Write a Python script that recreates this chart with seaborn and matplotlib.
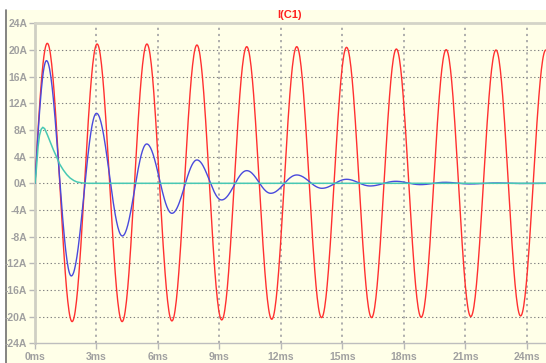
import numpy as np
import pandas as pd
import matplotlib
matplotlib.use("Agg")
import matplotlib.pyplot as plt
import seaborn as sns
from matplotlib.patches import Rectangle
from matplotlib.lines import Line2D

# ---- data (key points: zero start + extrema) ----
red_t = [0, 0.60, 1.81, 3.03, 4.25, 5.46, 6.68, 7.90, 9.11, 10.33, 11.55,
         12.77, 13.98, 15.20, 16.42, 17.63, 18.84, 20.06, 21.26, 22.49, 23.69, 24.92]
red_v = [0, 21.0, -20.75, 20.9, -20.75, 20.9, -20.65, 20.75, -20.5, 20.5, -20.4,
         20.5, -20.15, 20.4, -20.15, 20.15, -20.1, 20.05, -20.0, 20.0, -19.9, 20.0]
red_k = ["z"] + ["e"] * (len(red_t) - 1)

blue_t = [0, 0.56, 1.77, 3.00, 4.26, 5.45, 6.68, 7.90, 9.10, 10.33, 11.50,
          12.77, 14.00, 15.20, 16.35, 17.60, 18.80, 20.00, 21.20, 22.50, 23.70, 24.93]
blue_v = [0, 18.4, -13.9, 10.5, -7.9, 5.9, -4.5, 3.5, -2.5, 1.9, -1.5,
          1.25, -0.75, 0.6, -0.4, 0.3, -0.2, 0.15, -0.1, 0.05, -0.03, 0.0]
blue_k = ["z"] + ["e"] * (len(blue_t) - 2) + ["z"]

cyan_t = [0, 0.05, 0.10, 0.15, 0.22, 0.30, 0.38, 0.47, 0.60, 0.73, 0.90, 1.06,
          1.20, 1.38, 1.55, 1.71, 1.90, 2.05, 2.30, 2.60, 24.93]
cyan_v = [0, 1.5, 3.5, 5.5, 7.2, 8.1, 8.4, 8.2, 7.3, 6.3, 5.0, 3.9,
          2.9, 2.0, 1.3, 0.8, 0.4, 0.2, 0.05, 0.0, 0.0]

y_ticks = list(range(-24, 25, 4))
y_labels = [f"{v}A" for v in y_ticks]
x_ticks = list(range(0, 25, 3))
x_labels = [f"{v}ms" for v in x_ticks]
title = "I(C1)"


def render(ts, vs, ks, n=40):
    """Smooth sinusoidal-shaped rendering between read key points."""
    xs, ys = [], []
    for i in range(len(ts) - 1):
        t0, t1, v0, v1 = ts[i], ts[i + 1], vs[i], vs[i + 1]
        s = np.linspace(0, 1, n, endpoint=False)
        k = ks[i] + ks[i + 1]
        if k == "ee":
            y = (v0 + v1) / 2 + (v0 - v1) / 2 * np.cos(np.pi * s)
        elif k == "ze":
            y = v0 + (v1 - v0) * np.sin(np.pi / 2 * s)
        elif k == "ez":
            y = v1 + (v0 - v1) * np.cos(np.pi / 2 * s)
        else:
            y = v0 + (v1 - v0) * s
        xs.extend(t0 + (t1 - t0) * s)
        ys.extend(y)
    xs.append(ts[-1]); ys.append(vs[-1])
    return np.array(xs), np.array(ys)


rx, ry = render(red_t, red_v, red_k)
bx, by = render(blue_t, blue_v, blue_k)
df_red = pd.DataFrame({"t": rx, "i": ry})
df_blue = pd.DataFrame({"t": bx, "i": by})
df_cyan = pd.DataFrame({"t": cyan_t, "i": cyan_v})

sns.set_style("white")
plt.rcParams["font.family"] = ["Liberation Sans", "DejaVu Sans"]

W, H = 546, 363
fig = plt.figure(figsize=(W / 100, H / 100), dpi=100, facecolor="white")
bg = "#FFFFE8"

# background panel (yellow window) behind everything
bax = fig.add_axes([0, 0, 1, 1], zorder=-10)
bax.set_xlim(0, W)
bax.set_ylim(H, 0)
bax.axis("off")
bax.add_patch(Rectangle((5, 10), W - 5, H - 10, facecolor=bg, edgecolor="none"))
bax.plot([5.5, 5.5], [10, H], color="#707070", lw=1.2)

ax = fig.add_axes([35 / W, (H - 343.3) / H, (W - 35) / W, 320 / H], zorder=1)
ax.set_facecolor(bg)

# grid
for v in y_ticks[1:-1]:
    ax.axhline(v, color="#808080", lw=0.8, ls=(0, (1.2, 2.2)), zorder=1)
for v in x_ticks[1:]:
    ax.axvline(v, color="#A8A8A8", lw=1.3, ls=(0, (1.2, 2.2)), zorder=1)

sns.lineplot(data=df_red, x="t", y="i", ax=ax, color="#FF3030", lw=1.0,
             sort=False, estimator=None, zorder=3)
sns.lineplot(data=df_blue, x="t", y="i", ax=ax, color="#4A4ADC", lw=1.0,
             sort=False, estimator=None, zorder=4)
sns.lineplot(data=df_cyan, x="t", y="i", ax=ax, color="#48C8B4", lw=1.1,
             sort=False, estimator=None, zorder=5)

ax.set_xlim(0, 24.93)
ax.set_ylim(-24, 24)
ax.set_yticks(y_ticks)
ax.set_yticklabels(y_labels)
ax.set_xticks(x_ticks)
ax.set_xticklabels(x_labels)
ax.set_xlabel("")
ax.set_ylabel("")

for lab in ax.get_xticklabels() + ax.get_yticklabels():
    lab.set_color("#A0A0A0")
    lab.set_fontweight("bold")
    lab.set_fontsize(7.5)
ax.tick_params(axis="y", length=4, width=1, color="#B8B8B8", pad=1.5, left=True)
ax.tick_params(axis="x", length=4, width=1, color="#B8B8B8", pad=2, bottom=True)

ax.spines["right"].set_visible(False)
ax.spines["left"].set_color("#CFCFC4")
ax.spines["left"].set_linewidth(2.0)
ax.spines["top"].set_color("#D4D4C8")
ax.spines["top"].set_linewidth(2.0)
ax.spines["bottom"].set_color("#BEBEBE")
ax.spines["bottom"].set_linewidth(1.0)

fig.text(290 / W, 1 - 15 / H, title, color="#FF2020", fontsize=8, fontweight="bold",
         ha="center", va="center")

fig.savefig("out.png", dpi=100, facecolor="white")
